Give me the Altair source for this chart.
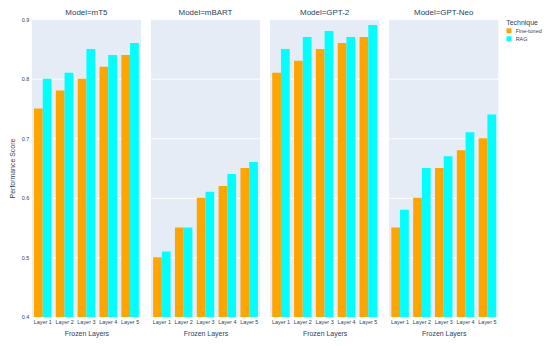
import altair as alt
import pandas as pd

models = ["mT5", "mBART", "GPT-2", "GPT-Neo"]
layers = ["Layer 1", "Layer 2", "Layer 3", "Layer 4", "Layer 5"]
techniques = ["Fine-tuned", "RAG"]

fine_tuned = {
    "mT5": [0.75, 0.78, 0.80, 0.82, 0.84],
    "mBART": [0.50, 0.55, 0.60, 0.62, 0.65],
    "GPT-2": [0.81, 0.83, 0.85, 0.86, 0.87],
    "GPT-Neo": [0.55, 0.60, 0.65, 0.68, 0.70],
}
rag = {
    "mT5": [0.80, 0.81, 0.85, 0.84, 0.86],
    "mBART": [0.51, 0.55, 0.61, 0.64, 0.66],
    "GPT-2": [0.85, 0.87, 0.88, 0.87, 0.89],
    "GPT-Neo": [0.58, 0.65, 0.67, 0.71, 0.74],
}

rows = []
for m in models:
    for i, l in enumerate(layers):
        rows.append({"Model": m, "Frozen Layers": l, "Technique": "Fine-tuned", "Performance Score": fine_tuned[m][i]})
        rows.append({"Model": m, "Frozen Layers": l, "Technique": "RAG", "Performance Score": rag[m][i]})
df = pd.DataFrame(rows)

FONT = "Liberation Sans"
TXT = "#2a3f5f"

base = alt.Chart(df).mark_bar(clip=True).encode(
    x=alt.X("Frozen Layers:N", sort=layers,
            scale=alt.Scale(paddingInner=0.2, paddingOuter=0.1),
            axis=alt.Axis(labelAngle=0, labelFontSize=5.5, labelColor=TXT, title="Frozen Layers",
                          titleFontSize=7, titleFontWeight="normal", titleColor=TXT,
                          ticks=False, domain=False, labelPadding=3, titlePadding=4,
                          labelOverlap=False, grid=False)),
    xOffset=alt.XOffset("Technique:N", sort=techniques),
    y=alt.Y("Performance Score:Q", scale=alt.Scale(domain=[0.4, 0.9], zero=False, nice=False),
            axis=alt.Axis(values=[0.4, 0.5, 0.6, 0.7, 0.8, 0.9], format=".1f", labelFontSize=5.5,
                          labelColor=TXT, title="Performance Score", titleFontSize=7,
                          titleFontWeight="normal", titleColor=TXT, ticks=False, domain=False,
                          gridColor="white", gridWidth=1, labelPadding=3, titlePadding=6)),
    y2=alt.datum(0.4),
    color=alt.Color("Technique:N", sort=techniques,
                    scale=alt.Scale(domain=techniques, range=["#FFA500", "#00FFFF"]),
                    legend=alt.Legend(title="Technique", titleFontSize=7, titleFontWeight="normal",
                                      titleColor=TXT, labelFontSize=5.5, labelColor=TXT,
                                      symbolType="square", symbolSize=25, symbolStrokeWidth=0,
                                      offset=8, rowPadding=1, titlePadding=2)),
).properties(width=110, height=300)

chart = base.facet(
    column=alt.Column("Model:N", sort=models,
                      header=alt.Header(title=None, labelExpr="'Model=' + datum.value",
                                        labelFontSize=8, labelColor=TXT, labelFont=FONT,
                                        labelPadding=2))
).properties(padding=0).configure(
    font=FONT
).configure_facet(spacing=10).configure_view(
    fill="#E5ECF6", strokeWidth=0
)

chart.save("out.html", embed_options={"renderer": "svg", "actions": False})
